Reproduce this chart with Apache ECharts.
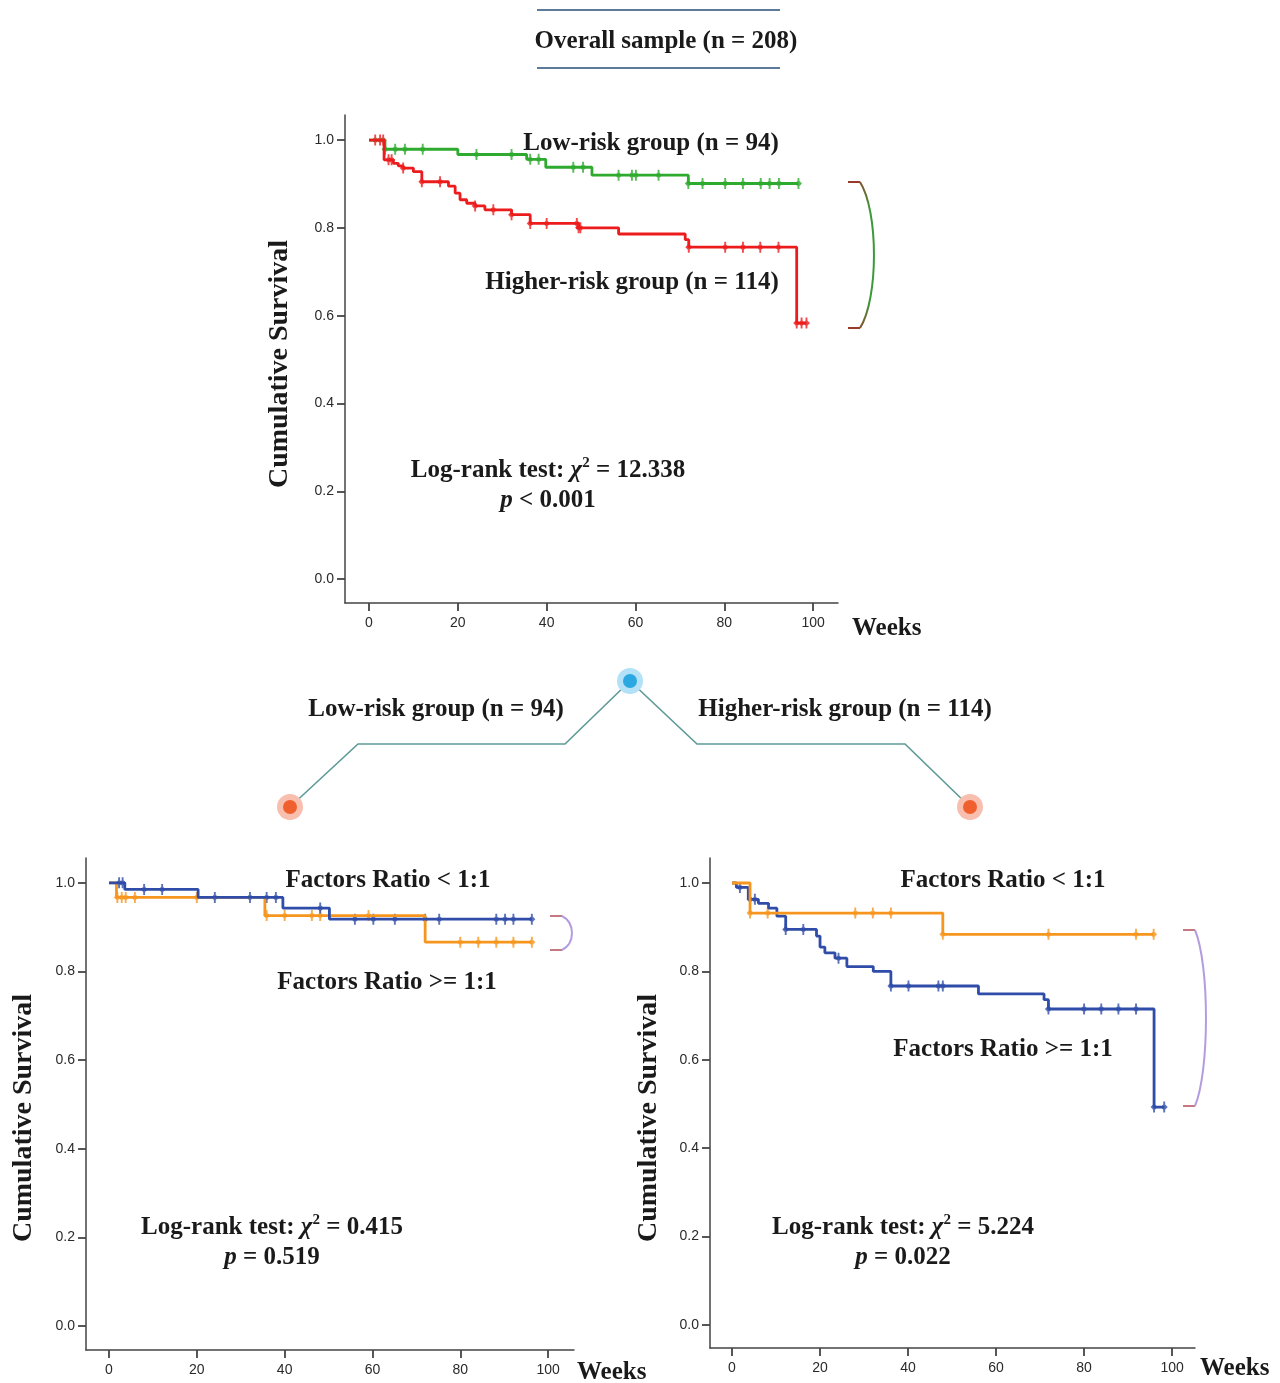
<!DOCTYPE html>
<html>
<head>
<meta charset="utf-8">
<script src="https://cdn.jsdelivr.net/npm/echarts@6/dist/echarts.min.js"></script>
<style>
  html, body { margin: 0; padding: 0; background: #ffffff; }
  #chart { width: 1280px; height: 1383px; }
</style>
</head>
<body>
<div id="chart"></div>
<script>
// ---------------- DATA ----------------
// Kaplan-Meier steps: [week, survival after event]
const overallLowSteps   = [[0,1.0],[3.6,0.979],[20.0,0.967],[35.5,0.956],[39.8,0.938],[50.2,0.920],[71.9,0.901]];
const overallLowCensor  = [3.6,5.9,8.1,12.1,24.2,32.1,36.3,38.2,46.0,48.2,56.2,59.2,60.1,65.2,71.9,75.1,80.2,84.2,88.2,90.2,92.3,96.7];
const overallHighSteps  = [[0,1.0],[3.4,0.955],[5.5,0.947],[6.6,0.941],[7.7,0.936],[10.0,0.928],[11.9,0.905],[17.9,0.895],[19.4,0.879],[20.5,0.864],[22.0,0.856],[23.9,0.850],[26.1,0.841],[32.1,0.830],[36.3,0.810],[47.2,0.800],[56.2,0.786],[71.2,0.773],[72.0,0.756],[96.3,0.583]];
const overallHighCensor = [1.4,2.5,3.2,4.4,5.1,7.7,11.9,16.0,23.9,28.0,32.1,36.3,40.0,46.8,47.2,47.6,72.0,80.2,84.2,88.1,92.2,96.3,97.4,98.5];

const lowOrangeSteps  = [[0,1.0],[1.7,0.967],[35.5,0.926],[72.0,0.866]];
const lowOrangeCensor = [1.9,2.9,3.8,5.9,20.0,35.9,40.0,46.2,48.1,59.1,80.0,84.1,88.2,92.1,96.3];
const lowBlueSteps    = [[0,1.0],[3.6,0.985],[20.3,0.967],[39.6,0.943],[50.2,0.918]];
const lowBlueCensor   = [2.3,3.1,8.0,12.1,24.1,32.1,35.9,38.0,48.1,56.0,60.2,65.1,72.0,75.2,88.2,90.2,92.1,96.3];

const highOrangeSteps  = [[0,1.0],[4.1,0.932],[47.9,0.884]];
const highOrangeCensor = [4.1,8.1,28.0,32.0,36.1,47.9,71.9,91.8,95.8];
const highBlueSteps    = [[0,1.0],[1.0,0.990],[3.7,0.963],[6.0,0.954],[8.3,0.943],[10.2,0.925],[12.2,0.895],[19.2,0.880],[20.0,0.855],[21.1,0.842],[23.4,0.830],[26.1,0.811],[32.1,0.800],[36.1,0.767],[56.0,0.749],[70.9,0.736],[71.9,0.715],[95.9,0.493]];
const highBlueCensor   = [1.8,4.1,5.2,12.2,16.2,24.2,36.1,40.1,46.9,47.9,71.9,80.0,83.9,87.8,91.8,95.9,98.2];

const weekTicks     = [0,20,40,60,80,100];
const survivalTicks = [0,0.2,0.4,0.6,0.8,1.0];

// ---------------- helpers ----------------
function levelAt(steps, t) {
  let v = steps[0][1];
  for (const s of steps) { if (s[0] <= t) v = s[1]; }
  return v;
}
function curveData(steps, censor) {
  const d = steps.map(s => [s[0], s[1]]);
  const end = Math.max(...censor, steps[steps.length-1][0]);
  d.push([end, levelAt(steps, end)]);
  return d;
}
function censorData(steps, censor) {
  return censor.map(t => [t, levelAt(steps, t)]);
}

const AX = '#444';
const tickFont = '"Liberation Sans Narrow","Liberation Sans",Arial,sans-serif';
const serif = '"Liberation Serif","Times New Roman",serif';
const censorSymbol = 'path://M-0.8,-5 L0.8,-5 L0.8,-2.4 L3,0 L0.8,2.4 L0.8,5 L-0.8,5 L-0.8,2.4 L-3,0 L-0.8,-2.4 Z';

function xAxisCfg(gi, min, max) {
  return {
    gridIndex: gi, type: 'value', min: min, max: max,
    axisLine: { show: true, onZero: false, lineStyle: { color: AX, width: 1.5 } },
    axisTick: { show: true, length: 8, customValues: weekTicks, lineStyle: { color: AX, width: 1.8 } },
    axisLabel: { customValues: weekTicks, margin: 13, fontSize: 14, color: '#2a2a2a', fontFamily: tickFont },
    splitLine: { show: false }
  };
}
function yAxisCfg(gi, min, max) {
  return {
    gridIndex: gi, type: 'value', min: min, max: max,
    axisLine: { show: true, onZero: false, lineStyle: { color: AX, width: 1.5 } },
    axisTick: { show: true, length: 8, customValues: survivalTicks, lineStyle: { color: AX, width: 1.8 } },
    axisLabel: { customValues: survivalTicks, margin: 11, fontSize: 14, color: '#2a2a2a', fontFamily: tickFont,
                 formatter: v => Number(v).toFixed(1) },
    splitLine: { show: false }
  };
}
function kmSeries(gi, steps, censor, color) {
  return [
    { type: 'line', xAxisIndex: gi, yAxisIndex: gi, step: 'end', data: curveData(steps, censor),
      showSymbol: false, lineStyle: { color: color, width: 2.8 }, silent: true },
    { type: 'scatter', xAxisIndex: gi, yAxisIndex: gi, data: censorData(steps, censor),
      symbol: censorSymbol, symbolSize: [7, 11], itemStyle: { color: color }, silent: true }
  ];
}

const GREEN = '#2eaa2e', RED = '#ec1c1c', BLUE = '#2f4da8', ORANGE = '#f7961e';
const FS = 25;

// ---------------- graphics (annotations) ----------------
function txt(text, x, y, size, opts) {
  opts = opts || {};
  return { type: 'text', silent: true, x: x, y: y, rotation: opts.rotation || 0,
    style: { text: text, x: 0, y: 0, fill: '#1a1a1a',
      font: 'bold ' + size + 'px ' + serif,
      align: opts.align || 'center', verticalAlign: 'middle',
      textAlign: opts.align || 'center', textVerticalAlign: 'middle',
      rich: opts.rich } };
}
function richStat(chi, pText, x, y) {
  const rich = {
    b: { fontFamily: serif, fontWeight: 'bold', fontSize: FS, color: '#1a1a1a', lineHeight: 30 },
    i: { fontFamily: serif, fontWeight: 'bold', fontStyle: 'italic', fontSize: FS, color: '#1a1a1a', lineHeight: 30 },
    s: { fontFamily: serif, fontWeight: 'bold', fontSize: 15, color: '#1a1a1a', verticalAlign: 'top', lineHeight: 30 }
  };
  return [
    txt('{b|Log-rank test: }{i|χ}{s|2}{b| = ' + chi + '}', x, y, FS, { rich: rich }),
    txt(pText, x, y + 30, FS, { rich: rich })
  ];
}
function bracket(x0, y1, y2, bulge, tickColor, arcStroke) {
  const xs = x0 + 12;
  return [
    { type: 'line', silent: true, shape: { x1: x0, y1: y1, x2: xs, y2: y1 }, style: { stroke: tickColor, lineWidth: 2 } },
    { type: 'line', silent: true, shape: { x1: x0, y1: y2, x2: xs, y2: y2 }, style: { stroke: tickColor, lineWidth: 2 } },
    { type: 'bezierCurve', silent: true,
      shape: { x1: xs, y1: y1, x2: xs, y2: y2, cpx1: xs + bulge * 1.33, cpy1: y1 + (y2 - y1) * 0.2, cpx2: xs + bulge * 1.33, cpy2: y1 + (y2 - y1) * 0.8 },
      style: { stroke: arcStroke, lineWidth: 2, fill: null } }
  ];
}
function node(cx, cy, halo, core) {
  return [
    { type: 'circle', silent: true, shape: { cx: cx, cy: cy, r: 13 }, style: { fill: halo } },
    { type: 'circle', silent: true, shape: { cx: cx, cy: cy, r: 7 }, style: { fill: core } }
  ];
}

const chart = echarts.init(document.getElementById('chart'), null, { renderer: 'canvas' });

const greenArc = new echarts.graphic.LinearGradient(0, 0, 0, 1, [
  { offset: 0, color: '#8a4a2a' }, { offset: 0.2, color: '#3a9a3a' }, { offset: 0.8, color: '#3a9a3a' }, { offset: 1, color: '#8a4a2a' }]);
const lavender = '#b49ce0';
const connector = '#5e9a97';

const graphics = [].concat(
  // title
  [ { type: 'line', silent: true, shape: { x1: 537, y1: 10, x2: 780, y2: 10 }, style: { stroke: '#5b7b98', lineWidth: 2 } },
    { type: 'line', silent: true, shape: { x1: 537, y1: 68, x2: 780, y2: 68 }, style: { stroke: '#5b7b98', lineWidth: 2 } },
    txt('Overall sample (n = 208)', 666, 42, FS) ],
  // top chart annotations
  [ txt('Low-risk group (n = 94)', 651, 144, FS),
    txt('Higher-risk group (n = 114)', 632, 283, FS),
    txt('Weeks', 852, 629, FS, { align: 'left' }),
    txt('Cumulative Survival', 280, 364, 28, { rotation: Math.PI / 2 }) ],
  richStat('12.338', '{i|p}{b| < 0.001}', 548, 471),
  bracket(848, 182, 328, 14, '#9a3a2a', greenArc),
  // connector
  [ { type: 'polyline', silent: true, shape: { points: [[630, 681], [565, 744], [358, 744], [290, 807]] }, style: { stroke: connector, lineWidth: 1.6, fill: null } },
    { type: 'polyline', silent: true, shape: { points: [[630, 681], [697, 744], [905, 744], [970, 807]] }, style: { stroke: connector, lineWidth: 1.6, fill: null } } ],
  node(630, 681, '#b3e1f7', '#2ba7e2'),
  node(290, 807, '#f8bfae', '#f0602e'),
  node(970, 807, '#f8bfae', '#f0602e'),
  [ txt('Low-risk group (n = 94)', 436, 710, FS),
    txt('Higher-risk group (n = 114)', 845, 710, FS) ],
  // bottom-left
  [ txt('Factors Ratio < 1:1', 388, 881, FS),
    txt('Factors Ratio >= 1:1', 387, 983, FS),
    txt('Weeks', 577, 1373, FS, { align: 'left' }),
    txt('Cumulative Survival', 24, 1118, 28, { rotation: Math.PI / 2 }) ],
  richStat('0.415', '{i|p}{b| = 0.519}', 272, 1228),
  bracket(550, 916, 950, 10, '#c47a80', lavender),
  // bottom-right
  [ txt('Factors Ratio < 1:1', 1003, 881, FS),
    txt('Factors Ratio >= 1:1', 1003, 1050, FS),
    txt('Weeks', 1200, 1369, FS, { align: 'left' }),
    txt('Cumulative Survival', 649, 1118, 28, { rotation: Math.PI / 2 }) ],
  richStat('5.224', '{i|p}{b| = 0.022}', 903, 1228),
  bracket(1183, 930, 1106, 11, '#c47a80', lavender)
);

const option = {
  animation: false,
  backgroundColor: '#ffffff',
  grid: [
    { left: 345, top: 115, width: 493, height: 488, containLabel: false },
    { left: 86, top: 858, width: 488, height: 492, containLabel: false },
    { left: 710, top: 858, width: 485, height: 490, containLabel: false }
  ],
  xAxis: [ xAxisCfg(0, -5.4, 105.6), xAxisCfg(1, -5.24, 105.9), xAxisCfg(2, -5.0, 105.2) ],
  yAxis: [ yAxisCfg(0, -0.0545, 1.057), yAxisCfg(1, -0.054, 1.056), yAxisCfg(2, -0.052, 1.0566) ],
  series: [].concat(
    kmSeries(0, overallLowSteps, overallLowCensor, GREEN),
    kmSeries(0, overallHighSteps, overallHighCensor, RED),
    kmSeries(1, lowOrangeSteps, lowOrangeCensor, ORANGE),
    kmSeries(1, lowBlueSteps, lowBlueCensor, BLUE),
    kmSeries(2, highBlueSteps, highBlueCensor, BLUE),
    kmSeries(2, highOrangeSteps, highOrangeCensor, ORANGE)
  ),
  graphic: graphics
};
chart.setOption(option);
</script>
</body>
</html>
